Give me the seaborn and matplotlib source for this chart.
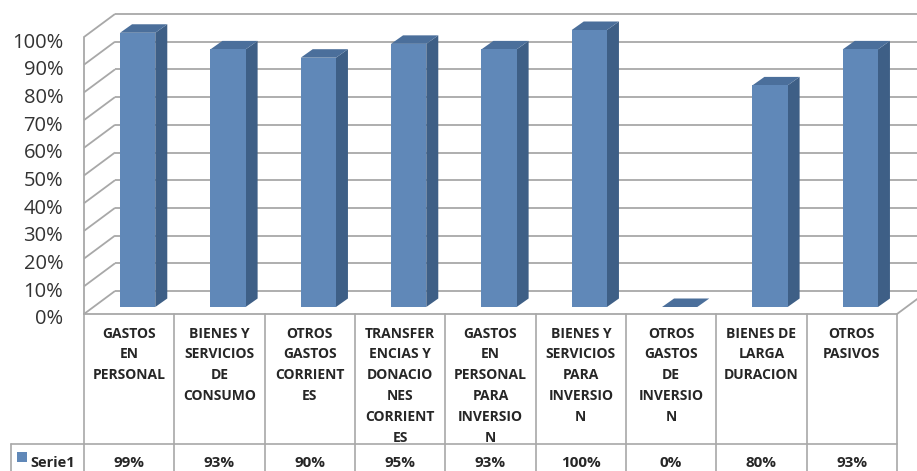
import numpy as np
import pandas as pd
import matplotlib
matplotlib.use("Agg")
import matplotlib.pyplot as plt
import matplotlib.transforms as mtransforms
from matplotlib.patches import Polygon, Rectangle
import seaborn as sns

# ---------------- data ----------------
categories = [
    "GASTOS\nEN\nPERSONAL",
    "BIENES Y\nSERVICIOS\nDE\nCONSUMO",
    "OTROS\nGASTOS\nCORRIENT\nES",
    "TRANSFER\nENCIAS Y\nDONACIO\nNES\nCORRIENT\nES",
    "GASTOS\nEN\nPERSONAL\nPARA\nINVERSIO\nN",
    "BIENES Y\nSERVICIOS\nPARA\nINVERSIO\nN",
    "OTROS\nGASTOS\nDE\nINVERSIO\nN",
    "BIENES DE\nLARGA\nDURACION",
    "OTROS\nPASIVOS",
]
values = [0.99, 0.93, 0.90, 0.95, 0.93, 1.00, 0.00, 0.80, 0.93]
series_name = "Serie1"
y_ticks = [0.0, 0.1, 0.2, 0.3, 0.4, 0.5, 0.6, 0.7, 0.8, 0.9, 1.0]
y_tick_labels = ["0%", "10%", "20%", "30%", "40%", "50%", "60%", "70%", "80%", "90%", "100%"]
value_labels = ["99%", "93%", "90%", "95%", "93%", "100%", "0%", "80%", "93%"]

# ---------------- style ----------------
sns.set_theme(style="white")
plt.rcParams["font.family"] = ["Open Sans", "DejaVu Sans"]

FRONT = "#6088B8"
SIDE = "#3E5F86"
TOP = "#4B6F9B"
GRID = "#A8A8A8"
TABLE = "#A8A8A8"
TXT = "#262626"

W, H = 917, 471
DPI = 100
fig = plt.figure(figsize=(W / DPI, H / DPI), dpi=DPI)
fig.patch.set_facecolor("white")

bg = fig.add_axes([0, 0, 1, 1])
bg.set_xlim(0, W)
bg.set_ylim(0, H)
bg.axis("off")
bg.set_zorder(0)

FL, FR, FB, FH = 84, 897, 314, 277   # front plane (pixels, from top for FB)
ax = fig.add_axes([FL / W, (H - FB) / H, (FR - FL) / W, FH / H])
ax.set_zorder(2)
ax.patch.set_alpha(0)

df = pd.DataFrame({"cat": categories, "val": values})
sns.barplot(data=df, x="cat", y="val", ax=ax, color=FRONT, width=0.39,
            saturation=1, edgecolor="none", linewidth=0, errorbar=None)
ax.set_xlim(-0.5, len(categories) - 0.5)
ax.set_ylim(0, 1)
for s in ax.spines.values():
    s.set_visible(False)
ax.set_xlabel("")
ax.set_ylabel("")
ax.set_yticks(y_ticks)
ax.set_yticklabels(y_tick_labels, fontsize=14.5, color="#333333")
ax.set_xticks(range(len(categories)))
ax.set_xticklabels(categories, fontsize=10, fontweight="bold", color=TXT,
                   linespacing=1.62, multialignment="center")
ax.tick_params(axis="y", length=0, pad=15)
ax.tick_params(axis="x", length=0, pad=9)
lab_off = mtransforms.ScaledTranslation(0, -3 / DPI, fig.dpi_scale_trans)
for lab in ax.get_yticklabels():
    lab.set_transform(lab.get_transform() + lab_off)

to_bg = bg.transData.inverted()

def px(pt):
    return to_bg.transform(ax.transData.transform(pt))

# wall geometry
WD = np.array([31.0, 23.0])   # wall depth
BO = np.array([8.5, 7.0])     # bar front offset
BD = np.array([12.0, 8.5])    # bar depth

xmin, xmax = ax.get_xlim()
for t in y_ticks:
    f = px((xmin, t))
    b = f + WD
    bg.plot([f[0], b[0]], [f[1], b[1]], color=GRID, lw=1.3, zorder=1, solid_capstyle="butt")
    bg.plot([b[0], W + 40], [b[1], b[1]], color=GRID, lw=1.3, zorder=1, solid_capstyle="butt")
# front left edge
f0 = px((xmin, 0)); f1 = px((xmin, 1))
bg.plot([f0[0], f1[0]], [f0[1], f1[1]], color=GRID, lw=1.3, zorder=1)
# floor front edge and right edge
fr = px((xmax, 0))
bg.plot([f0[0], fr[0]], [f0[1], fr[1]], color=GRID, lw=1.3, zorder=1)
bg.plot([fr[0], fr[0] + WD[0]], [fr[1], fr[1] + WD[1]], color=GRID, lw=1.3, zorder=1)

# bars: offset front faces into the depth, add side & top faces
off = mtransforms.ScaledTranslation(BO[0] / DPI, BO[1] / DPI, fig.dpi_scale_trans)
for p in ax.patches:
    x0 = p.get_x(); x1 = x0 + p.get_width(); h = p.get_height()
    p.set_transform(ax.transData + off)
    p.set_clip_on(False)
    a = px((x0, 0)) + BO
    b = px((x1, h)) + BO
    side = [(b[0], a[1]), (b[0] + BD[0], a[1] + BD[1]), (b[0] + BD[0], b[1] + BD[1]), (b[0], b[1])]
    top = [(a[0], b[1]), (b[0], b[1]), (b[0] + BD[0], b[1] + BD[1]), (a[0] + BD[0], b[1] + BD[1])]
    bg.add_patch(Polygon(side, closed=True, facecolor=SIDE, edgecolor="none", zorder=3))
    bg.add_patch(Polygon(top, closed=True, facecolor=TOP, edgecolor="none", zorder=3))

# data table
ROW = H - 444
LEFTBOX = 11
for i in range(len(categories) + 1):
    x = px((i - 0.5, 0))[0]
    bg.plot([x, x], [f0[1], -5], color=TABLE, lw=1.2, zorder=1)
bg.plot([LEFTBOX, fr[0]], [ROW, ROW], color=TABLE, lw=1.2, zorder=1)
bg.plot([LEFTBOX, LEFTBOX], [ROW, -5], color=TABLE, lw=1.2, zorder=1)
ycen = H - 463
for i, lab in enumerate(value_labels):
    x = px((i, 0))[0]
    bg.text(x, ycen, lab, ha="center", va="center", fontsize=11, fontweight="bold", color=TXT)
bg.add_patch(Rectangle((17, H - 462), 10, 10, facecolor=FRONT, edgecolor="none"))
bg.text(30, ycen, series_name, ha="left", va="center", fontsize=10.5, fontweight="bold", color=TXT)

fig.savefig("out.png", dpi=DPI, facecolor="white")
